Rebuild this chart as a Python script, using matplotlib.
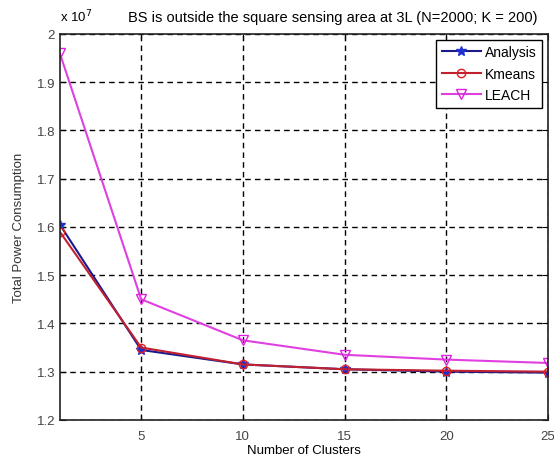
import matplotlib
matplotlib.use("Agg")
import matplotlib.pyplot as plt
from matplotlib.ticker import FuncFormatter

plt.rcParams['font.family'] = ['Liberation Sans', 'DejaVu Sans']

clusters = [1, 5, 10, 15, 20, 25]
analysis = [1.605e7, 1.345e7, 1.315e7, 1.305e7, 1.300e7, 1.298e7]
kmeans = [1.590e7, 1.350e7, 1.315e7, 1.305e7, 1.302e7, 1.300e7]
leach = [1.960e7, 1.450e7, 1.365e7, 1.335e7, 1.325e7, 1.318e7]
x_ticks = [5, 10, 15, 20, 25]
y_ticks = [1.2e7, 1.3e7, 1.4e7, 1.5e7, 1.6e7, 1.7e7, 1.8e7, 1.9e7, 2.0e7]

fig = plt.figure(figsize=(5.54, 4.6), dpi=100)
ax = fig.add_axes([0.108, 0.085, 0.881, 0.839])

ax.plot(clusters, analysis, color='#1a1a8c', marker='*', markersize=7,
        markerfacecolor='#2030d0', markeredgecolor='#2030d0', lw=1.5, label='Analysis')
ax.plot(clusters, kmeans, color='#c02030', marker='o', markersize=6,
        markerfacecolor='none', markeredgecolor='#e02020', lw=1.5, label='Kmeans')
ax.plot(clusters, leach, color='#e040e0', marker='v', markersize=7,
        markerfacecolor='none', markeredgecolor='#e020e0', lw=1.5, label='LEACH')

ax.set_xlim(1, 25)
ax.set_ylim(1.2e7, 2.0e7)
ax.set_xticks(x_ticks)
ax.set_yticks(y_ticks)
ax.yaxis.set_major_formatter(FuncFormatter(lambda v, p: f"{v/1e7:g}"))
ax.tick_params(direction='in', labelsize=9.5, labelcolor='#444444', length=4,
               top=True, right=True)
ax.tick_params(axis='x', pad=7)
ax.grid(True, color='black', linestyle=(0, (4, 3)), linewidth=1.0)
for s in ax.spines.values():
    s.set_linewidth(1.2)
    s.set_color('#222222')

ax.set_xlabel('Number of Clusters', fontsize=9.5, labelpad=2)
ax.set_ylabel('Total Power Consumption', fontsize=9.5, labelpad=8, color='#333333')
ax.set_title('BS is outside the square sensing area at 3L (N=2000; K = 200)',
             fontsize=10.5, x=0.56, pad=9)
ax.text(0.0, 1.025, r'x 10$^7$', transform=ax.transAxes, fontsize=9.5,
        ha='left', va='bottom')

leg = ax.legend(loc='upper right', fontsize=10, fancybox=False, framealpha=1,
                edgecolor='black', handlelength=2.8, borderaxespad=0.4,
                labelspacing=0.55, handletextpad=0.3)
leg.get_frame().set_linewidth(1.0)

fig.savefig('out.png', dpi=100)
